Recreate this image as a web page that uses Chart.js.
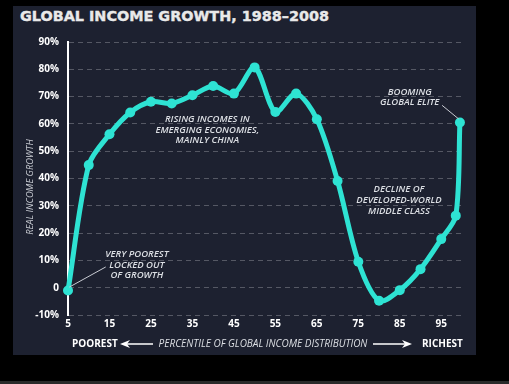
<!DOCTYPE html>
<html lang="en">
<head>
<meta charset="UTF-8">
<title>Global Income Growth, 1988–2008</title>
<script src="https://cdn.jsdelivr.net/npm/chart.js"></script>
<style>
  html, body { margin: 0; padding: 0; background: #000; width: 509px; height: 384px; overflow: hidden; }
  .panel { position: absolute; left: 13px; top: 6px; width: 463px; height: 349px; background: #1d2130; }
  .strip { position: absolute; left: 0; top: 381px; width: 509px; height: 3px; background: #2a2a2a; }
  h1 { position: absolute; left: 20px; top: 7px; margin: 0; font: bold 14.4px 'DejaVu Sans', sans-serif; -webkit-text-stroke: 0.4px #e9e9e9; color: #e9e9e9; line-height: 18px; }
  canvas { position: absolute; left: 0; top: 0; }
</style>
</head>
<body>
<div class="panel"></div>
<div class="strip"></div>
<h1>GLOBAL INCOME GROWTH, 1988–2008</h1>
<canvas id="elephant" width="509" height="384"></canvas>

<script>
// data
const percentiles = [5, 10, 15, 20, 25, 30, 35, 40, 45, 50, 55, 60, 65, 70, 75, 80, 85, 90, 95, 98.5, 99.5];
const growth = [-1, 44.9, 56.2, 64.2, 68.1, 67.5, 70.5, 73.9, 71.1, 80.7, 64.4, 71.1, 61.7, 39.1, 9.5, -4.8, -0.9, 6.8, 17.8, 26.4, 60.5];
const xTicks = [5, 15, 25, 35, 45, 55, 65, 75, 85, 95];
const yTicks = [-10, 0, 10, 20, 30, 40, 50, 60, 70, 80, 90];

// notes, placed in data units (percentile, % growth)
const notes = [
    { lines: ['RISING INCOMES IN', 'EMERGING ECONOMIES,', 'MAINLY CHINA'], x: 38.6, y: 61.7 },
    { lines: ['BOOMING', 'GLOBAL ELITE'], x: 87.4, y: 71.7 },
    { lines: ['DECLINE OF', 'DEVELOPED-WORLD', 'MIDDLE CLASS'], x: 84.8, y: 36.0 },
    { lines: ['VERY POOREST', 'LOCKED OUT', 'OF GROWTH'], x: 21.6, y: 12.2 }
];
const leaders = [
    { from: [95.2, 66.8], to: [99.2, 61.8] },
    { from: [14.1, 7.6], to: [5.3, 0.2] }
];

const TEAL = '#2ee3d3';
const LIGHT = '#dcdfe4';

function arrow(ctx, x1, x2, y, dir) {
    // line with a filled head at x2
    ctx.strokeStyle = '#fff';
    ctx.fillStyle = '#fff';
    ctx.lineWidth = 1.5;
    ctx.beginPath();
    ctx.moveTo(x1, y);
    ctx.lineTo(x2 - dir * 6, y);
    ctx.stroke();
    ctx.beginPath();
    ctx.moveTo(x2, y);
    ctx.lineTo(x2 - dir * 10, y - 4);
    ctx.lineTo(x2 - dir * 7, y);
    ctx.lineTo(x2 - dir * 10, y + 4);
    ctx.closePath();
    ctx.fill();
}

const extras = {
    id: 'extras',
    afterDraw(chart) {
        const ctx = chart.ctx;
        const xs = chart.scales.x, ys = chart.scales.y;
        ctx.save();

        // y axis title
        ctx.translate(30, 187);
        ctx.rotate(-Math.PI / 2);
        ctx.fillStyle = '#c9ccd3';
        ctx.font = 'italic 9.3px "Open Sans"';
        ctx.textAlign = 'center';
        ctx.textBaseline = 'middle';
        ctx.fillText('REAL INCOME GROWTH', 0, 0);
        ctx.setTransform(1, 0, 0, 1, 0, 0);

        // leader lines
        ctx.strokeStyle = '#c9ccd3';
        ctx.lineWidth = 1;
        leaders.forEach(l => {
            ctx.beginPath();
            ctx.moveTo(xs.getPixelForValue(l.from[0]), ys.getPixelForValue(l.from[1]));
            ctx.lineTo(xs.getPixelForValue(l.to[0]), ys.getPixelForValue(l.to[1]));
            ctx.stroke();
        });

        // notes
        ctx.fillStyle = LIGHT;
        ctx.font = 'italic 600 9.5px "Open Sans"';
        notes.forEach(n => {
            const cx = xs.getPixelForValue(n.x);
            const cy = ys.getPixelForValue(n.y);
            n.lines.forEach((t, i) => ctx.fillText(t, cx, cy + i * 10.7));
        });

        // bottom axis caption
        const by = 344;
        ctx.textAlign = 'left';
        ctx.fillStyle = '#fff';
        ctx.font = 'bold 10px "Open Sans"';
        ctx.fillText('POOREST', 72, by);
        ctx.fillText('RICHEST', 422, by);
        ctx.fillStyle = LIGHT;
        ctx.font = 'italic 10px "Open Sans"';
        ctx.textAlign = 'center';
        ctx.fillText('PERCENTILE OF GLOBAL INCOME DISTRIBUTION', 263, by);
        arrow(ctx, 153, 120, by, -1);
        arrow(ctx, 373, 412, by, 1);

        ctx.restore();
    }
};

new Chart(document.getElementById('elephant'), {
    type: 'line',
    data: {
        datasets: [{
            data: percentiles.map((p, i) => ({ x: p, y: growth[i] })),
            borderColor: TEAL,
            backgroundColor: TEAL,
            borderWidth: 5,
            pointRadius: 5,
            pointBorderWidth: 0,
            pointBackgroundColor: TEAL,
            tension: 0.3,
            clip: false
        }]
    },
    options: {
        responsive: false,
        animation: false,
        layout: { padding: { left: 13, right: 47, top: 42, bottom: 49 } },
        plugins: { legend: { display: false }, tooltip: { enabled: false } },
        scales: {
            x: {
                type: 'linear',
                min: 5,
                max: 100,
                afterBuildTicks: s => { s.ticks = xTicks.map(v => ({ value: v })); },
                afterFit: s => { s.height = 20; },
                grid: { display: false, drawTicks: false },
                border: { display: false },
                ticks: {
                    color: '#fff',
                    font: { family: 'Open Sans', weight: 'bold', size: 10 },
                    padding: 3,
                    maxRotation: 0,
                    autoSkip: false
                }
            },
            y: {
                min: -10,
                max: 90,
                afterBuildTicks: s => { s.ticks = yTicks.map(v => ({ value: v })); },
                afterFit: s => { s.width = 55; },
                grid: { color: 'rgba(255,255,255,0.25)', lineWidth: 1, drawTicks: false },
                border: { color: '#fff', width: 2, dash: [5, 4] },
                ticks: {
                    color: '#fff',
                    font: { family: 'Open Sans', weight: 'bold', size: 10 },
                    padding: 9,
                    callback: v => v === 0 ? '0' : v + '%'
                }
            }
        }
    },
    plugins: [extras]
});
</script>
</body>
</html>
